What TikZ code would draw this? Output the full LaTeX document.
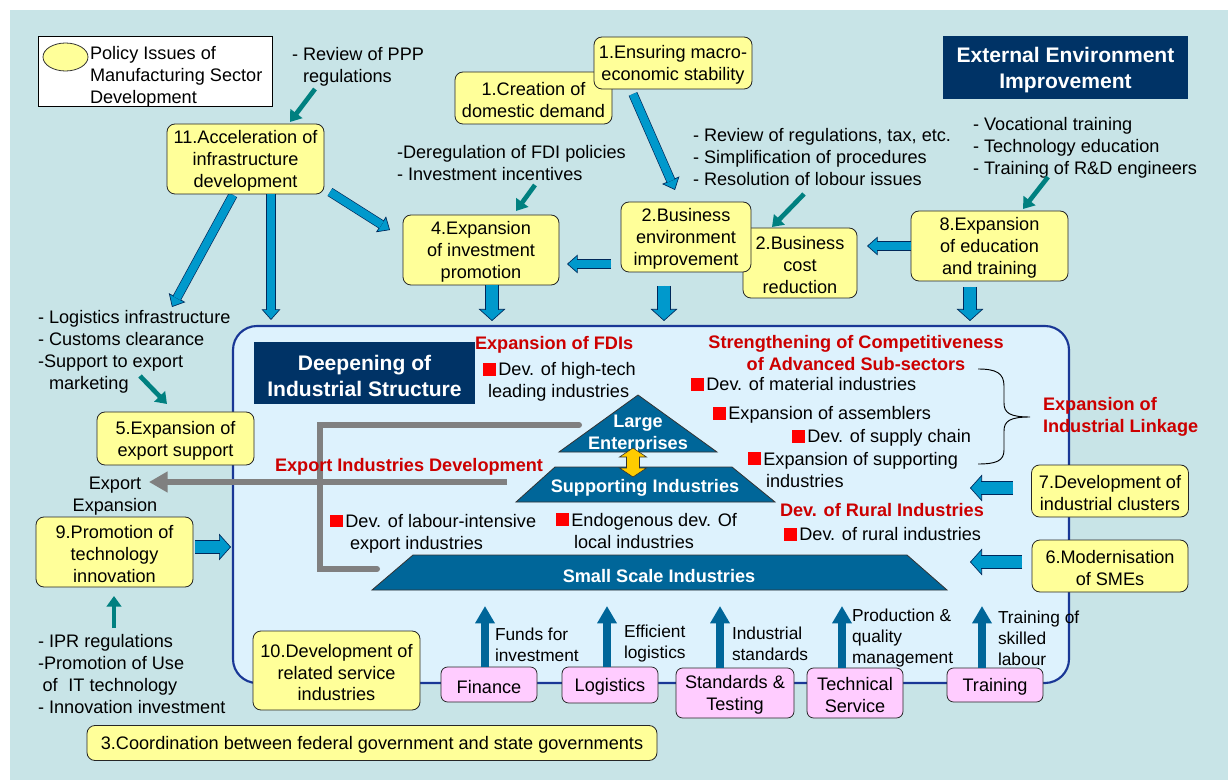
\documentclass[tikz,border=0pt]{standalone}
\usepackage{fontspec}
\setmainfont{Liberation Sans}
\usetikzlibrary{arrows.meta,shapes.geometric}
\definecolor{bgteal}{RGB}{200,228,231}
\definecolor{inbox}{RGB}{221,242,253}
\definecolor{boxline}{RGB}{25,55,150}
\definecolor{ylw}{RGB}{255,255,153}
\definecolor{pnk}{RGB}{255,204,255}
\definecolor{navy}{RGB}{0,51,102}
\definecolor{arrblue}{RGB}{0,153,204}
\definecolor{arrline}{RGB}{0,40,90}
\definecolor{steel}{RGB}{0,102,153}
\definecolor{tealc}{RGB}{0,128,128}
\definecolor{hred}{RGB}{204,0,0}
\definecolor{sqred}{RGB}{255,0,0}
\definecolor{greyl}{RGB}{128,128,128}
\definecolor{gold}{RGB}{255,204,0}
\newcommand{\fsm}{\fontsize{13.6pt}{16.4pt}\selectfont}
\newcommand{\fss}{\fontsize{13pt}{15.8pt}\selectfont}
\newcommand{\fsb}{\fontsize{15.8pt}{19.2pt}\selectfont\bfseries}
\newcommand{\sqb}{{\color{sqred}\rule{9.5pt}{9.5pt}}\hspace{2pt}}
\newcommand{\st}{\rule{0pt}{13pt}}
\newcommand{\stb}{\rule{0pt}{15.5pt}}
\tikzset{
  every node/.style={font=\fsm, inner sep=0pt, outer sep=0pt, execute at begin node={\st}},
  wh/.style 2 args={minimum width=#1*0.75pt, minimum height=#2*0.75pt},
  ybox/.style={draw=black!85, line width=0.6pt, fill=ylw, rounded corners=6pt, align=center, inner sep=1pt},
  pbox/.style={draw=black!85, line width=0.6pt, fill=pnk, rounded corners=5pt, align=center, inner sep=1pt},
  navybox/.style={fill=navy, text=white, font=\fsb, align=center, execute at begin node={\stb}},
  bigbox/.style={draw=boxline, line width=1.6pt, fill=inbox, rounded corners=18pt},
  txt/.style={align=left, anchor=west},
  ctxt/.style={align=center},
  redh/.style={text=hred, font=\fsm\bfseries},
  pyr/.style={fill=steel, draw=black!80, line width=0.6pt},
  pyrtxt/.style={text=white, font=\fsm\bfseries, align=center},
  lbl/.style={align=left, anchor=west, font=\fss},
  headS/.style={draw=arrline, line width=0.5pt, -{Triangle[width=14pt,length=8pt,fill=arrblue]}},
  shaftS/.style={draw=arrline, line width=0.5pt, double=arrblue, double distance=6pt, shorten >=7.5pt},
  headB/.style={draw=arrline, line width=0.5pt, -{Triangle[width=20pt,length=9pt,fill=arrblue]}},
  shaftB/.style={draw=arrline, line width=0.5pt, double=arrblue, double distance=9pt, shorten >=8.5pt},
  tealarr/.style={draw=tealc, line width=3.5pt, -{Triangle[width=11pt,length=8pt]}},
  uparr/.style={draw=steel, line width=6pt, -{Triangle[width=14pt,length=13pt]}},
  greyln/.style={draw=greyl, line width=4.5pt, line cap=round},
  greyarr/.style={draw=greyl, line width=4.5pt, -{Triangle[width=15pt,length=14pt]}},
}
\newcommand{\blk}[3]{\draw[head#1] #2 -- #3; \draw[shaft#1] #2 -- #3;}
\begin{document}
\begin{tikzpicture}[x=0.75pt,y=-0.75pt]
\useasboundingbox (0,0) rectangle (1228,780);
\fill[white] (0,0) rectangle (1228,780);
\fill[bgteal] (10,10) rectangle (1228,780);

% central structure
\node[bigbox, wh={836}{357}] (deep) at (651,504.5) {};
\node[navybox, wh={221}{62}] (deeptitle) at (364.5,373) {\stb Deepening of\\Industrial Structure};

% grey lines
\draw[greyln] (579,425) -- (320,425) -- (320,569) -- (377,569);
\coordinate (gx) at (507,482);
\coordinate (gt) at (149,482);
\draw[greyarr] (gx) -- (gt);

% pyramid
\draw[pyr] (638,395) -- (717,452) -- (559,452) -- cycle;
\node[pyrtxt] (tlarge) at (638,432) {\st Large\\Enterprises};
\draw[pyr] (555,467) -- (732,467) -- (775,502) -- (516,502) -- cycle;
\node[pyrtxt] (tsupp) at (645,486) {Supporting Industries};
\draw[pyr] (413,555) -- (907,555) -- (947,590) -- (372,590) -- cycle;
\node[pyrtxt] (tsmall) at (659,574) {Small Scale Industries};
\draw[fill=gold, draw=black!80, line width=0.5pt] (633,448) -- (646.5,457) -- (639.5,457) -- (639.5,468) -- (646.5,468) -- (633,477) -- (619.5,468) -- (626.5,468) -- (626.5,457) -- (619.5,457) -- cycle;

% red headings
\node[redh, anchor=west] (hfdi) at (475,343) {Expansion of FDIs};
\node[redh, align=center] (hcomp) at (856,351) {\st Strengthening of Competitiveness\\of Advanced Sub-sectors};
\node[redh, align=left, anchor=west] (hlink) at (1043,415) {\st Expansion of\\Industrial Linkage};
\node[redh, anchor=west] (hexp) at (275,465) {Export Industries Development};
\node[redh, anchor=west] (hrur) at (780,508) {Dev. of Rural Industries};

% bullet items
\node[txt] (iht) at (483,380) {\st\sqb Dev. of high-tech\\\hspace*{3.75pt}leading industries};
\node[txt] (imat) at (691,382) {\sqb Dev. of material industries};
\node[txt] (iasm) at (713,413) {\sqb Expansion of assemblers};
\node[txt] (isup) at (792,436) {\sqb Dev. of supply chain};
\node[txt] (isi) at (748,467.5) {\st\sqb Expansion of supporting\\\hspace*{13.5pt}industries};
\node[txt] (ilab) at (330,531.5) {\st\sqb Dev. of labour-intensive\\\hspace*{15pt}export industries};
\node[txt] (iend) at (556,528.5) {\st\sqb Endogenous dev. Of\\\hspace*{13.5pt}local industries};
\node[txt] (irur) at (784,532) {\sqb Dev. of rural industries};

% brace
\draw[line width=0.7pt] (978,369) .. controls (996,369) and (1004,373) .. (1004,386) -- (1004,403) .. controls (1004,413) and (1010,417) .. (1030,417) .. controls (1010,417) and (1004,421) .. (1004,431) -- (1004,450) .. controls (1004,461) and (996,464) .. (978,464);

% legend
\node[draw=black, line width=0.7pt, fill=white, wh={234}{70}] (legend) at (155,71) {};
\node[draw=black!80, line width=0.6pt, fill=ylw, ellipse, wh={45}{28}] (legell) at (65.5,57) {};
\node[txt] (legtxt) at (90,75) {\st Policy Issues of\\Manufacturing Sector\\Development};

% plain texts
\node[txt] (ppp) at (292,65) {\st - Review of PPP\\\hphantom{- }regulations};
\node[txt] (fdi) at (397,161) {\st -Deregulation of FDI policies\\- Investment incentives};
\node[txt] (regs) at (693,155) {\st - Review of regulations, tax, etc.\\- Simplification of procedures\\- Resolution of lobour issues};
\node[txt] (voc) at (973,146) {\st - Vocational training\\- Technology education\\- Training of R\&D engineers};
\node[txt] (logi) at (38,350) {\st - Logistics infrastructure\\- Customs clearance\\-Support to export\\\hspace*{8.25pt}marketing};
\node[ctxt] (expexp) at (115,494) {\st Export\\Expansion};
\node[txt] (ipr) at (38,672) {\st - IPR regulations\\-Promotion of Use\\\hspace*{3.5pt}of\hspace*{8pt}IT technology\\- Innovation investment};

% block arrows
\coordinate (a1t) at (633,94); \coordinate (a1h) at (675,190);
\blk{S}{(a1t)}{(a1h)}
\coordinate (a2t) at (611,264); \coordinate (a2h) at (567,264);
\blk{S}{(a2t)}{(a2h)}
\coordinate (a3h) at (867,246);
\coordinate (a4t) at (233,195); \coordinate (a4h) at (172,307);
\blk{S}{(a4t)}{(a4h)}
\coordinate (a5h) at (271,320);
\coordinate (a6t) at (330,192); \coordinate (a6h) at (390,230);
\blk{S}{(a6t)}{(a6h)}
\coordinate (a7h) at (492,321);
\coordinate (a8t) at (664,286); \coordinate (a8h) at (664,321);
\blk{B}{(a8t)}{(a8h)}
\coordinate (a9t) at (970,287); \coordinate (a9h) at (970,321);
\blk{B}{(a9t)}{(a9h)}
\coordinate (a10t) at (195,547); \coordinate (a10h) at (231,547);
\blk{B}{(a10t)}{(a10h)}
\coordinate (a11t) at (1013,488); \coordinate (a11h) at (970,488);
\blk{B}{(a11t)}{(a11h)}
\coordinate (a12t) at (1022,562); \coordinate (a12h) at (970,562);
\blk{B}{(a12t)}{(a12h)}

% yellow boxes
\node[ybox, wh={157}{70}] (b11) at (245.5,159) {\st 11.Acceleration of\\infrastructure\\development};
\node[ybox, wh={157}{52}] (b1c) at (533.5,98) {\st 1.Creation of\\domestic demand};
\node[ybox, wh={158}{52}] (b1m) at (673,63) {\st 1.Ensuring macro-\\economic stability};
\node[ybox, wh={156}{70}] (b4) at (481,250) {\st 4.Expansion\\of investment\\promotion};
\node[ybox, wh={114}{70}] (b2c) at (800,263) {\st 2.Business\\cost\\reduction};
\node[ybox, wh={130}{70}] (b2e) at (686,237) {\st 2.Business\\environment\\improvement};
\node[ybox, wh={157}{70}] (b8) at (989.5,246) {\st 8.Expansion\\of education\\and training};
\node[ybox, wh={157}{53}] (b5) at (175.5,438.5) {\st 5.Expansion of\\export support};
\node[ybox, wh={157}{70}] (b9) at (114.5,552) {\st 9.Promotion of\\technology\\innovation};
\node[ybox, wh={167}{79}] (b10) at (336.5,670.5) {\st 10.Development of\\related service\\industries};
\node[ybox, wh={570}{35}] (b3) at (372,743) {3.Coordination between federal government and state governments};
\node[ybox, wh={157}{52}] (b7) at (1110,491) {\st 7.Development of\\industrial clusters};
\node[ybox, wh={156}{52}] (b6) at (1110,566) {\st 6.Modernisation\\of SMEs};
\node[navybox, wh={245}{63}] (ext) at (1065.5,67.5) {\stb External Environment\\Improvement};

% arrows attached to boxes
\blk{S}{(b8.west)}{(a3h)}
\blk{S}{(b11.south -| a5h)}{(a5h)}
\blk{B}{(b4.south -| a7h)}{(a7h)}

% teal arrows
\coordinate (tt1) at (315,89); \coordinate (th1) at (290,122);
\draw[tealarr] (tt1) -- (th1);
\coordinate (tt2) at (535,185); \coordinate (th2) at (516,211);
\draw[tealarr] (tt2) -- (th2);
\coordinate (tt3) at (804,194); \coordinate (th3) at (772,227);
\draw[tealarr] (tt3) -- (th3);
\coordinate (tt4) at (1048,177); \coordinate (th4) at (1023,209);
\draw[tealarr] (tt4) -- (th4);
\coordinate (tt5) at (140,376); \coordinate (th5) at (167,404);
\draw[tealarr] (tt5) -- (th5);
\coordinate (tt6) at (114,628); \coordinate (th6) at (114,596);
\draw[tealarr] (tt6) -- (th6);

% up arrows and service boxes
\coordinate (ufin) at (485,606);
\coordinate (ulog) at (607,606);
\coordinate (ustd) at (720,606);
\coordinate (utec) at (842,606);
\coordinate (utrn) at (982,606);
\node[pbox, wh={96}{35}] (pfin) at (489,684.5) {Finance};
\node[pbox, wh={96}{36}] (plog) at (610,685) {Logistics};
\node[pbox, wh={118}{50}] (pstd) at (735,693) {\st Standards \&\\Testing};
\node[pbox, wh={96}{50}] (ptec) at (855,693) {\st Technical\\Service};
\node[pbox, wh={96}{34}] (ptrn) at (995,685) {Training};
\draw[uparr] (pfin.north -| ufin) -- (ufin);
\draw[uparr] (plog.north -| ulog) -- (ulog);
\draw[uparr] (pstd.north -| ustd) -- (ustd);
\draw[uparr] (ptec.north -| utec) -- (utec);
\draw[uparr] (ptrn.north -| utrn) -- (utrn);
\node[lbl] (lfin) at (495,642) {\st Funds for\\investment};
\node[lbl] (llog) at (624,641) {\st Efficient\\logistics};
\node[lbl] (lstd) at (732,641) {\st Industrial\\standards};
\node[lbl] (ltec) at (852,636) {\st Production \&\\quality\\management};
\node[lbl] (ltrn) at (998,636) {\st Training of\\skilled\\labour};
\end{tikzpicture}
\end{document}
